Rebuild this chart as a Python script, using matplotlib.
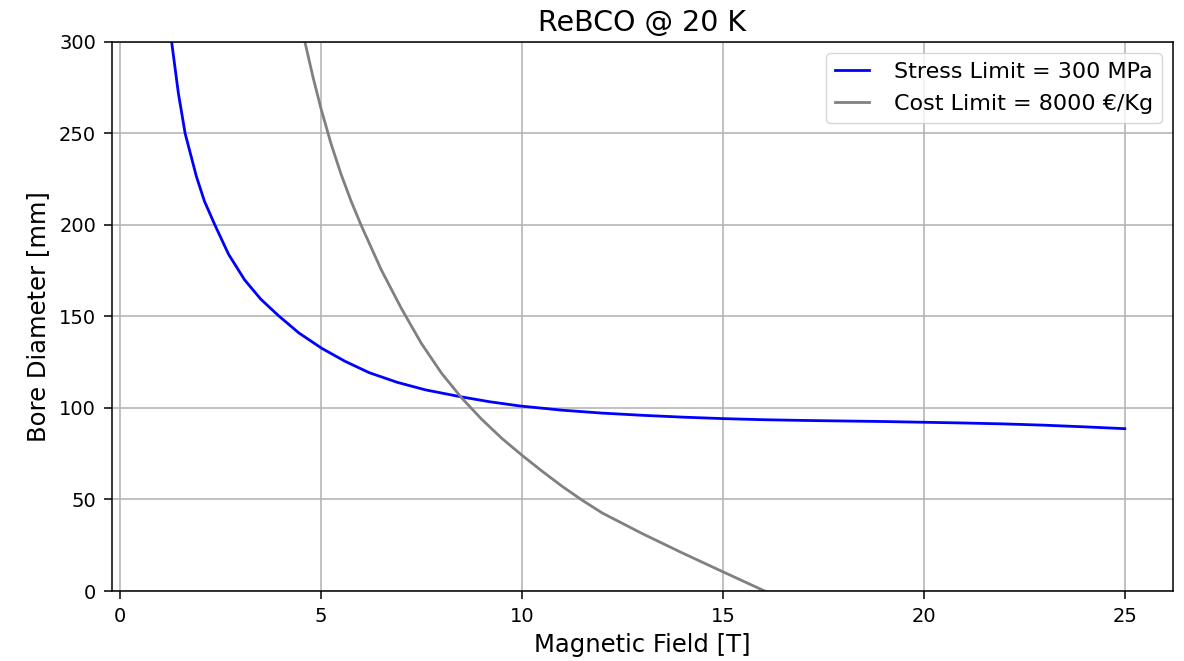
import matplotlib.pyplot as plt

# Stress limit curve (blue)
B_stress = [1.0, 1.15, 1.29, 1.45, 1.62, 1.9, 2.1, 2.36, 2.7, 3.1, 3.5, 3.94, 4.45, 5.02, 5.6,
            6.2, 6.9, 7.6, 8.46, 9.2, 9.95, 11.0, 12.0, 13.0, 14.0, 15.0, 16.0, 17.0,
            18.0, 19.0, 20.0, 21.0, 22.0, 23.0, 24.0, 25.0]
D_stress = [372, 329, 299, 272.2, 250, 226.5, 213, 200, 184, 170, 159.5, 150.5, 141, 132.6, 125.5,
            119.3, 114, 109.9, 106.2, 103.4, 101.1, 98.8, 97.2, 96, 95, 94.2, 93.6, 93.2,
            92.9, 92.6, 92.2, 91.8, 91.3, 90.6, 89.7, 88.7]

# Cost limit curve (grey)
B_cost = [4.5, 4.6, 4.8, 5.0, 5.25, 5.5, 5.75, 6.0, 6.5, 7.0, 7.5, 8.0, 8.5, 9.0, 9.5, 10.0,
          10.5, 11.0, 11.5, 12.0, 13.0, 14.0, 15.0, 16.0, 16.2]
D_cost = [310.5, 300, 280.9, 263.6, 244.4, 227.7, 213, 199.8, 175.5, 154.4, 135.2, 119, 105.5,
          93.8, 83.4, 74.2, 65.5, 57.2, 49.6, 42.6, 31.3, 20.7, 10.5, 0.4, -1.6]

fig, ax = plt.subplots(figsize=(11.84, 6.61), dpi=100)
fig.subplots_adjust(left=0.0946, right=0.9907, top=0.9365, bottom=0.1059)

ax.plot(B_stress, D_stress, color='blue', lw=2, label='Stress Limit = 300 MPa')
ax.plot(B_cost, D_cost, color='grey', lw=2, label='Cost Limit = 8000 €/Kg')

ax.set_ylim(0, 300)
ax.grid(True, color='#b0b0b0', lw=1.1)
for s in ax.spines.values():
    s.set_linewidth(1.1)
ax.tick_params(labelsize=14, length=5.5, width=1.1, pad=6)
ax.set_xlabel('Magnetic Field [T]', fontsize=17.5, labelpad=5)
ax.set_ylabel('Bore Diameter [mm]', fontsize=17.5, labelpad=6)
ax.set_title('ReBCO @ 20 K', fontsize=20.5, pad=8)
ax.legend(loc='upper right', fontsize=16, handlelength=1.55, handletextpad=1.1,
          labelspacing=0.55)

plt.savefig('out.png')
